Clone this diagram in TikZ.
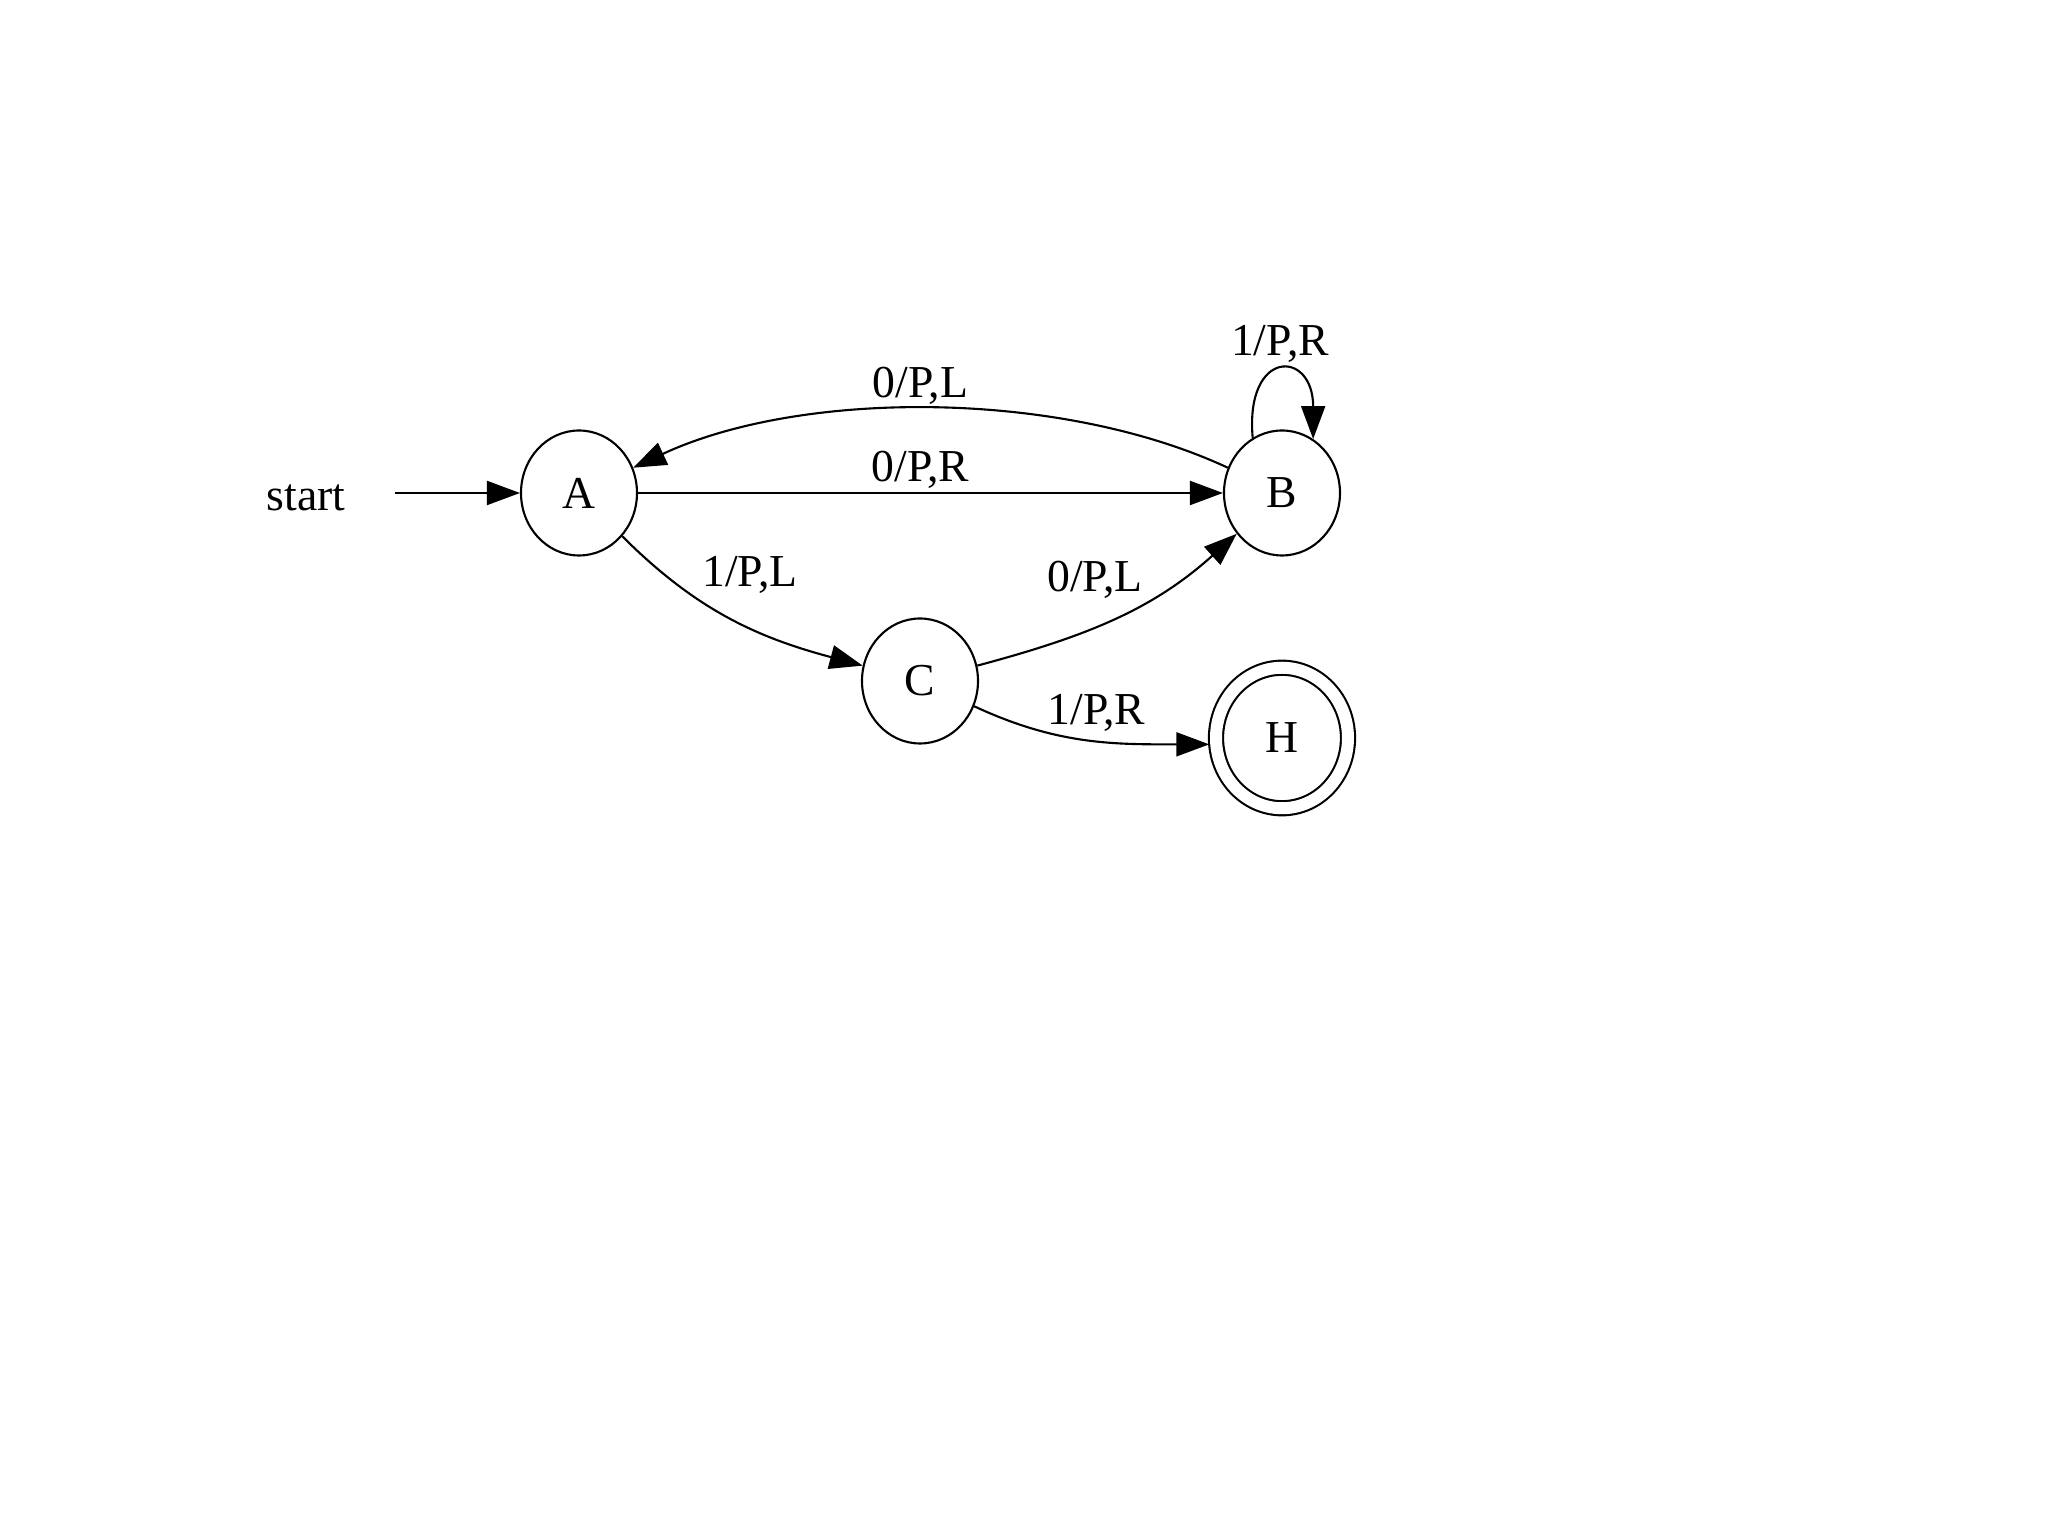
\documentclass[tikz,border=0pt]{standalone}
\usepackage{fontspec}
\setmainfont{Liberation Serif}
\usetikzlibrary{positioning,arrows.meta,shapes.geometric}

\begin{document}
\begin{tikzpicture}[
    state/.style={ellipse, draw, line width=0.6pt, minimum width=1.16cm,
      minimum height=1.25cm, inner sep=0pt, font=\fontsize{13}{15}\selectfont},
    halt/.style={state, double, double distance=0.12cm, minimum width=1.32cm,
      minimum height=1.405cm, outer sep=0.07cm},
    trans/.style={-{Triangle[length=0.33cm,width=0.24cm]}, line width=0.6pt},
    lbl/.style={font=\fontsize{13}{15}\selectfont, inner sep=2pt}
  ]
  \useasboundingbox (0,0) rectangle (20.48,15.35);
  % states
  \node[state] (A) at (5.79,10.42) {A};
  \node[state] (B) at (12.82,10.42) {B};
  \node[state] (C) at (9.20,8.54) {C};
  \node[halt]  (H) at (12.82,7.97) {H};
  \node[lbl, inner xsep=0.49cm, text height=10pt, text depth=0pt] (start) at (3.06,10.42) {start};
  % transitions
  \draw[trans] (start) -- (A);
  \draw[trans] (A) -- node[lbl, above, xshift=-0.1cm, yshift=-0.04cm] {0/P,R} (B);
  \draw[trans] (B) to[out=155, in=25, looseness=0.8]
    node[lbl, above, xshift=-0.1cm, yshift=-0.04cm] {0/P,L} (A);
  \draw[trans] (A) to[out=-45, in=165]
    node[lbl, above right, xshift=-0.38cm, yshift=0.17cm] {1/P,L} (C);
  \draw[trans] (C) to[out=15, in=222]
    node[lbl, above left, xshift=0.34cm, yshift=0.11cm] {0/P,L} (B);
  \draw[trans] (C) to[out=-25, in=180] node[lbl, above, xshift=0.08cm] {1/P,R} (H.185);
  % self loop
  \draw[trans] (B.118) to[out=95, in=90, distance=0.9cm] node[lbl, above] {1/P,R} (B.60);
\end{tikzpicture}
\end{document}
